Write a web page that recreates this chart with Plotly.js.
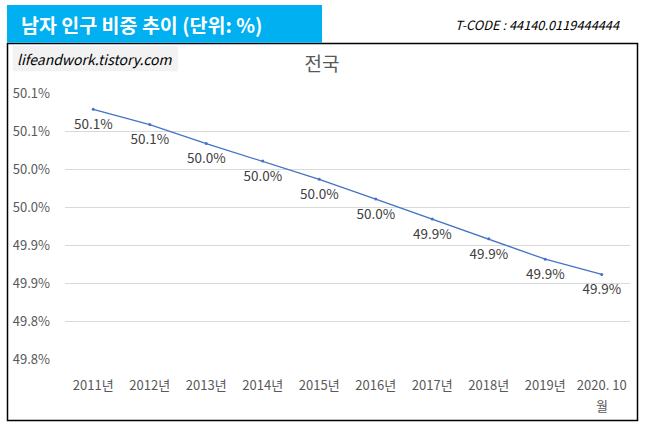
<!DOCTYPE html>
<html>
<head>
<meta charset="utf-8">
<script src="https://cdn.plot.ly/plotly-3.0.1.min.js"></script>
<style>
  body { margin: 0; background: #fff; }
  #chart { width: 646px; height: 429px; }
</style>
</head>
<body>
<div id="chart"></div>
<script>
// 남자 인구 비중 (%), 전국
const years = ['2011년', '2012년', '2013년', '2014년', '2015년', '2016년', '2017년', '2018년', '2019년', '2020. 10월'];
// the last label wraps in the original: first line on the axis, "월" on its own line below
const xTickText = ['2011년', '2012년', '2013년', '2014년', '2015년', '2016년', '2017년', '2018년', '2019년', '2020. 10'];
const lastTickWrap = '월';
const maleShare = [50.079, 50.059, 50.034, 50.011, 49.987, 49.961, 49.935, 49.909, 49.882, 49.862];
const yTickVals = [49.75, 49.80, 49.85, 49.90, 49.95, 50.00, 50.05, 50.10];
const yTickText = ['49.8%', '49.8%', '49.9%', '49.9%', '50.0%', '50.0%', '50.1%', '50.1%'];

var W = 646, H = 429;
var L = 65, R = 16, T = 93, B = 69;
// pixel -> paper helpers for the decorations outside the plot
function px(x) { return (x - L) / (W - L - R); }
function py(y) { return (H - B - y) / (H - T - B); }

var font = 'Malgun Gothic, "Noto Sans CJK KR", "Noto Sans", sans-serif';

var line = {
  x: years,
  y: maleShare,
  type: 'scatter',
  mode: 'lines+markers',
  line: { color: '#4472C4', width: 1.25 },
  marker: { color: '#4472C4', size: 3 },
  hoverinfo: 'skip'
};

// data labels: invisible bigger markers push the text further below the points
var labels = {
  x: years,
  y: maleShare,
  type: 'scatter',
  mode: 'markers+text',
  marker: { color: 'rgba(0,0,0,0)', size: 14 },
  texttemplate: '%{y:.1f}%',
  textposition: 'bottom center',
  textfont: { family: font, size: 13.5, color: '#404040' },
  cliponaxis: false,
  hoverinfo: 'skip'
};

var layout = {
  width: W,
  height: H,
  margin: { l: L, r: R, t: T, b: B },
  paper_bgcolor: '#fff',
  plot_bgcolor: '#fff',
  showlegend: false,
  font: { family: font, color: '#595959', size: 13 },
  title: {
    text: '전국',
    x: 322 / W, xref: 'container', xanchor: 'center',
    y: 1 - 64 / H, yref: 'container', yanchor: 'middle',
    font: { family: font, size: 19, color: '#595959' }
  },
  xaxis: {
    type: 'category',
    range: [-0.5, 9.5],
    tickvals: years,
    ticktext: xTickText,
    showgrid: false,
    zeroline: false,
    showline: false,
    ticks: '',
    ticklabelstandoff: 16,
    tickfont: { family: font, size: 13, color: '#595959' }
  },
  yaxis: {
    range: [49.7495, 50.1005],
    tickvals: yTickVals,
    ticktext: yTickText,
    showgrid: true,
    gridcolor: '#d9d9d9',
    gridwidth: 1,
    zeroline: false,
    showline: false,
    ticks: '',
    ticklabelstandoff: 14,
    tickfont: { family: font, size: 13, color: '#595959' }
  },
  shapes: [
    // chart frame
    { type: 'rect', xref: 'paper', yref: 'paper', x0: px(7.5), x1: px(637.5), y0: py(420.5), y1: py(43.5),
      line: { color: '#000', width: 1.5 }, fillcolor: 'rgba(0,0,0,0)', layer: 'below' },
    // blue header box
    { type: 'rect', xref: 'paper', yref: 'paper', x0: px(7), x1: px(322), y0: py(42.7), y1: py(5),
      line: { width: 0 }, fillcolor: '#00B0F0', layer: 'above' },
    // watermark box
    { type: 'rect', xref: 'paper', yref: 'paper', x0: px(12.7), x1: px(178), y0: py(71.3), y1: py(46),
      line: { width: 0 }, fillcolor: '#f2f2f2', layer: 'below' }
  ],
  annotations: [
    { text: lastTickWrap, xref: 'x', yref: 'paper',
      x: years[years.length - 1], y: py(405), xanchor: 'center', yanchor: 'middle', showarrow: false,
      font: { family: font, size: 13, color: '#595959' } },
    { text: '<b>남자 인구 비중 추이 (단위: %)</b>', xref: 'paper', yref: 'paper',
      x: px(19), y: py(24), xanchor: 'left', yanchor: 'middle', showarrow: false,
      font: { family: font, size: 19.5, color: '#fff' } },
    { text: '<i>T-CODE : 44140.0119444444</i>', xref: 'paper', yref: 'paper',
      x: px(453), y: py(24), xanchor: 'left', yanchor: 'middle', showarrow: false,
      font: { family: font, size: 12.8, color: '#000' } },
    { text: '<i>lifeandwork.tistory.com</i>', xref: 'paper', yref: 'paper',
      x: px(95.3), y: py(58.5), xanchor: 'center', yanchor: 'middle', showarrow: false,
      font: { family: font, size: 14, color: '#000' } }
  ]
};

Plotly.newPlot('chart', [line, labels], layout, { displayModeBar: false, staticPlot: true });
</script>
</body>
</html>
